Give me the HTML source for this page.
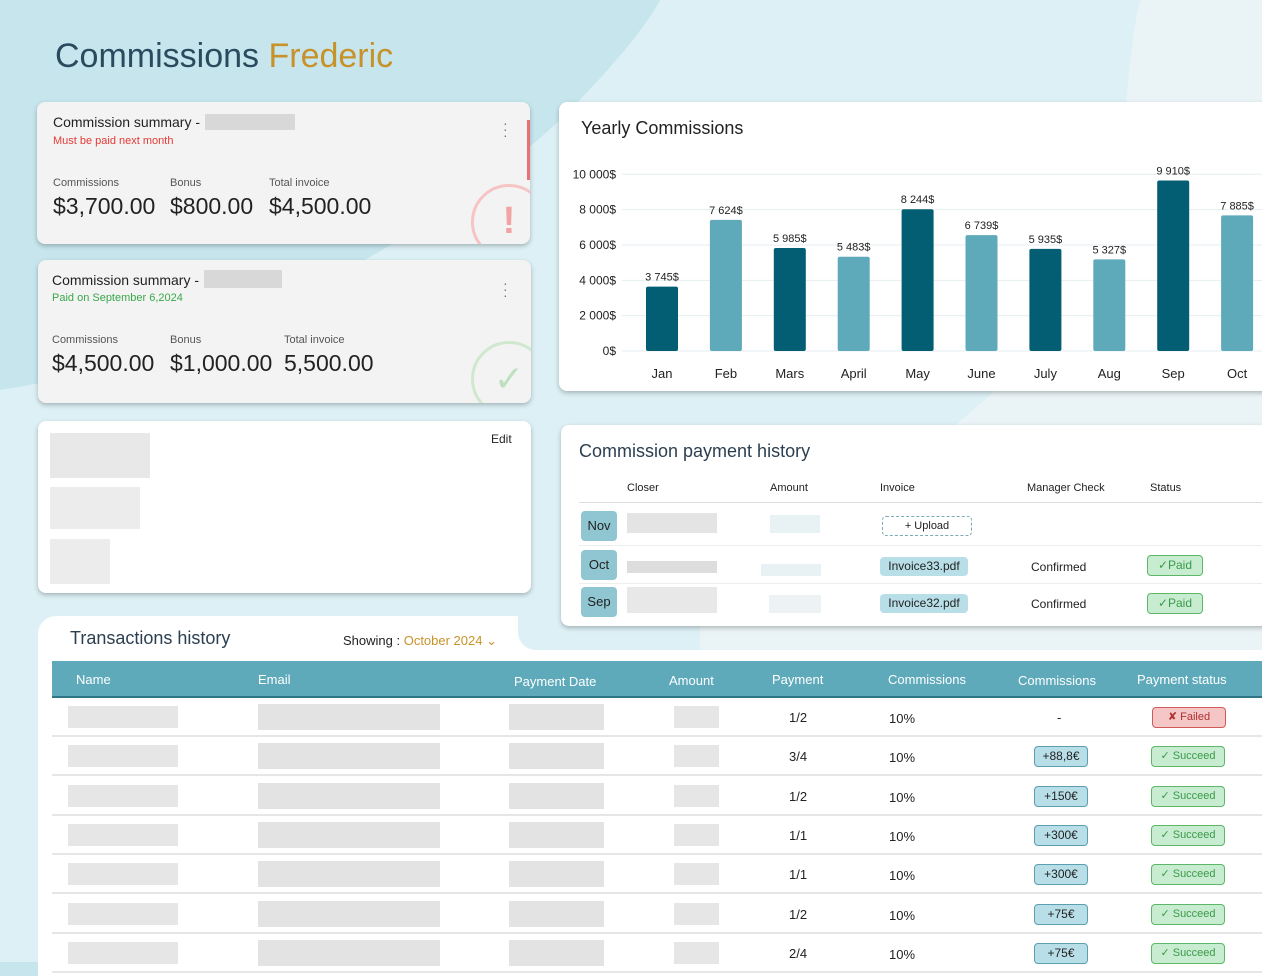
<!DOCTYPE html>
<html><head><meta charset="utf-8">
<style>
*{box-sizing:border-box;margin:0;padding:0}
body{width:1262px;height:962px;overflow:hidden;position:relative;font-family:"Liberation Sans",sans-serif;background:#c6e5ed;color:#222}
.abs{position:absolute}
.card{position:absolute;border-radius:8px;box-shadow:0 2px 5px rgba(0,0,0,.25)}
.blk{position:absolute;background:#d8d8d8}
.lbl{font-size:11px;color:#555}
.big{font-size:23px;color:#222}
.pill{position:absolute;border-radius:4px;font-size:12px;text-align:center}
</style></head><body>
<svg class="abs" style="left:0;top:0" width="1262" height="962">
<path d="M660 0 L1262 0 L1262 962 L0 962 L0 390 C200 360 420 250 560 120 C620 60 650 20 660 0Z" fill="#dcf0f5"/>
<path d="M1140 0 L1262 0 L1262 962 L620 962 L680 620 C820 520 980 430 1080 300 C1130 230 1120 80 1140 0Z" fill="#eaf3f6"/>
</svg>
<div class="abs" style="left:55px;top:37px;font-size:34px;color:#2b4a5e">Commissions <span style="color:#c8922a">Frederic</span></div>

<!-- card 1 -->
<div class="card" style="left:37px;top:102px;width:493px;height:142px;background:#f3f3f3;overflow:hidden">
 <div class="abs" style="left:16px;top:12px;font-size:14px">Commission summary -</div>
 <div class="blk" style="left:168px;top:12px;width:90px;height:16px;background:#ccc;opacity:.7"></div>
 <div class="abs" style="left:16px;top:33px;font-size:11px;color:#e53935">Must be paid next month</div>
 <div class="abs" style="left:466px;top:18px;font-size:14px;color:#777;line-height:6px">·<br>·<br>·</div>
 <div class="abs lbl" style="left:16px;top:75px">Commissions</div><div class="abs lbl" style="left:133px;top:75px">Bonus</div><div class="abs lbl" style="left:232px;top:75px">Total invoice</div>
 <div class="abs big" style="left:16px;top:91px">$3,700.00</div><div class="abs big" style="left:133px;top:91px">$800.00</div><div class="abs big" style="left:232px;top:91px">$4,500.00</div>
 <div class="abs" style="left:434px;top:82px;width:76px;height:76px;border:3px solid #f6c4c4;border-radius:50%;color:#f2a3a3;font-size:38px;text-align:center;line-height:68px;font-weight:bold">!</div>
 <div class="abs" style="right:0;top:18px;width:3px;height:60px;background:#e57373"></div>
</div>
<!-- card 2 -->
<div class="card" style="left:38px;top:260px;width:493px;height:143px;background:#f3f3f3;overflow:hidden">
 <div class="abs" style="left:14px;top:12px;font-size:14px">Commission summary -</div>
 <div class="blk" style="left:166px;top:10px;width:78px;height:18px;background:#ccc;opacity:.7"></div>
 <div class="abs" style="left:14px;top:32px;font-size:11px;color:#3aa84a">Paid on September 6,2024</div>
 <div class="abs" style="left:465px;top:20px;font-size:14px;color:#777;line-height:6px">·<br>·<br>·</div>
 <div class="abs lbl" style="left:14px;top:74px">Commissions</div><div class="abs lbl" style="left:132px;top:74px">Bonus</div><div class="abs lbl" style="left:246px;top:74px">Total invoice</div>
 <div class="abs big" style="left:14px;top:90px">$4,500.00</div><div class="abs big" style="left:132px;top:90px">$1,000.00</div><div class="abs big" style="left:246px;top:90px">5,500.00</div>
 <div class="abs" style="left:433px;top:81px;width:76px;height:76px;border:3px solid #cfe8cf;border-radius:50%;color:#bfe0bf;font-size:36px;text-align:center;line-height:70px">✓</div>
</div>
<!-- card 3 -->
<div class="card" style="left:38px;top:421px;width:493px;height:172px;background:#fff">
 <div class="abs" style="left:453px;top:11px;font-size:12px">Edit</div>
 <div class="blk" style="left:12px;top:12px;width:100px;height:45px;background:#e8e8e8"></div>
 <div class="blk" style="left:12px;top:66px;width:90px;height:42px;background:#ececec"></div>
 <div class="blk" style="left:12px;top:118px;width:60px;height:45px;background:#ececec"></div>
</div>

<!-- chart -->
<div class="card" style="left:559px;top:102px;width:720px;height:289px;background:#fff;overflow:hidden">
 <div class="abs" style="left:22px;top:16px;font-size:18px;color:#222">Yearly Commissions</div>
 <svg id="chart" class="abs" style="left:0;top:0" width="720" height="289"></svg>
</div>

<!-- transactions -->
<div class="abs" style="left:38px;top:616px;width:1230px;height:360px;background:#fff;border-radius:18px 18px 0 0"></div>
<div class="abs" style="left:518px;top:616px;width:750px;height:34px;background:#dcf0f5;border-radius:0 0 0 18px"></div>
<div class="abs" style="left:700px;top:616px;width:568px;height:34px;background:#eaf3f6"></div>
<div class="abs" style="left:70px;top:628px;font-size:18px;color:#2b3f50">Transactions history</div>
<div class="abs" style="left:343px;top:633px;font-size:13px">Showing : <span style="color:#c8922a">October 2024 ⌄</span></div>
<div class="abs" style="left:52px;top:661px;width:1220px;height:37px;background:#5eaabb;border-bottom:2px solid #2f7585;color:#fff;font-size:13px">
 <span class="abs" style="left:24px;top:11px">Name</span><span class="abs" style="left:206px;top:11px">Email</span><span class="abs" style="left:462px;top:13px">Payment Date</span><span class="abs" style="left:617px;top:12px">Amount</span><span class="abs" style="left:720px;top:11px">Payment</span><span class="abs" style="left:836px;top:11px">Commissions</span><span class="abs" style="left:966px;top:12px">Commissions</span><span class="abs" style="left:1085px;top:11px">Payment status</span>
</div>
<div id="rows"></div>

<!-- payment history -->
<div class="card" style="left:561px;top:425px;width:720px;height:201px;background:#fff;z-index:5">
 <div class="abs" style="left:18px;top:16px;font-size:18px;color:#2b3f50">Commission payment history</div>
 <div class="abs" style="left:66px;top:57px;font-size:11px">Closer</div>
 <div class="abs" style="left:209px;top:57px;font-size:11px">Amount</div>
 <div class="abs" style="left:319px;top:57px;font-size:11px">Invoice</div>
 <div class="abs" style="left:466px;top:57px;font-size:11px">Manager Check</div>
 <div class="abs" style="left:589px;top:57px;font-size:11px">Status</div>
 <div class="abs" style="left:18px;top:77px;width:690px;height:1px;background:#ddd"></div>
 <div class="abs" style="left:18px;top:120px;width:690px;height:1px;background:#eee"></div>
 <div class="abs" style="left:18px;top:158px;width:690px;height:1px;background:#eee"></div>
 <div class="pill" style="left:20px;top:86px;width:36px;height:30px;background:#8fc6d2;line-height:30px;font-size:13px">Nov</div>
 <div class="pill" style="left:20px;top:125px;width:36px;height:30px;background:#8fc6d2;line-height:30px;font-size:13px">Oct</div>
 <div class="pill" style="left:20px;top:162px;width:36px;height:30px;background:#8fc6d2;line-height:30px;font-size:13px">Sep</div>
 <div class="blk" style="left:66px;top:88px;width:90px;height:20px;background:#e4e4e4"></div>
 <div class="blk" style="left:66px;top:136px;width:90px;height:12px;background:#ddd"></div>
 <div class="blk" style="left:66px;top:162px;width:90px;height:26px;background:#e8e8e8"></div>
 <div class="blk" style="left:209px;top:90px;width:50px;height:18px;background:#e8f1f3"></div>
 <div class="blk" style="left:200px;top:139px;width:60px;height:12px;background:#e8f1f3"></div>
 <div class="blk" style="left:208px;top:170px;width:52px;height:18px;background:#edf3f4"></div>
 <div class="pill" style="left:321px;top:91px;width:90px;height:20px;border:1px dashed #7aaab5;line-height:18px;font-size:11px">+ Upload</div>
 <div class="pill" style="left:319px;top:132px;width:88px;height:19px;background:#b8dfe8;line-height:19px">Invoice33.pdf</div>
 <div class="pill" style="left:319px;top:169px;width:88px;height:19px;background:#b8dfe8;line-height:19px">Invoice32.pdf</div>
 <div class="abs" style="left:470px;top:135px;font-size:12px">Confirmed</div>
 <div class="abs" style="left:470px;top:172px;font-size:12px">Confirmed</div>
 <div class="pill" style="left:586px;top:130px;width:56px;height:21px;background:#c8ecd0;border:1px solid #5cb76b;color:#3a9a4a;line-height:19px">✓Paid</div>
 <div class="pill" style="left:586px;top:168px;width:56px;height:21px;background:#c8ecd0;border:1px solid #5cb76b;color:#3a9a4a;line-height:19px">✓Paid</div>
</div>

<script>
// chart data
const months=["Jan","Feb","Mars","April","May","June","July","Aug","Sep","Oct"];
const values=[3745,7624,5985,5483,8244,6739,5935,5327,9910,7885];
const valueLabels=["3 745$","7 624$","5 985$","5 483$","8 244$","6 739$","5 935$","5 327$","9 910$","7 885$"];
const yTicks=[0,2000,4000,6000,8000,10000];
const yTickLabels=["0$","2 000$","4 000$","6 000$","8 000$","10 000$"];
const NS="http://www.w3.org/2000/svg";
const svg=document.getElementById('chart');
const y=v=>249-v*0.01767;
const yb=v=>249-v*0.0172;
const x=i=>103+i*63.9;
function mk(t,a){const e=document.createElementNS(NS,t);for(const k in a)e.setAttribute(k,a[k]);svg.appendChild(e);return e;}
yTicks.forEach((t,i)=>{
 const l=mk('line',{x1:63,x2:720,y1:y(t),y2:y(t),stroke:'#e6eef0'});
 
 
 const tx=mk('text',{x:57,y:y(t)+4,'text-anchor':'end','font-size':12,fill:'#222','font-family':'Liberation Sans'});
 tx.textContent=yTickLabels[i];
 
 
});
values.forEach((v,i)=>{
 const r=mk('rect',{x:x(i)-16,y:yb(v),width:32,height:249-yb(v),rx:2,fill:i%2?'#5eaabb':'#035e73'});
 
 
 const t=mk('text',{x:x(i),y:yb(v)-6,'text-anchor':'middle','font-size':11,fill:'#222','font-family':'Liberation Sans'});
 t.textContent=valueLabels[i];
 
 
 const m=mk('text',{x:x(i),y:276,'text-anchor':'middle','font-size':13,fill:'#222','font-family':'Liberation Sans'});
 m.textContent=months[i];
 
 
});
// table
const payments=["1/2","3/4","1/2","1/1","1/1","1/2","2/4"];
const comms=["-","+88,8€","+150€","+300€","+300€","+75€","+75€"];
const statuses=["Failed","Succeed","Succeed","Succeed","Succeed","Succeed","Succeed"];
const rows=document.getElementById('rows');
payments.forEach((p,i)=>{
 const top=698+i*39.3;
 const r=document.createElement('div');
 r.className='abs';
 
 
 r.style.cssText=`left:52px;top:${top}px;width:1220px;height:39px;border-bottom:2px solid #e6e6e6`;
 let h=`<div class="blk" style="left:16px;top:8px;width:110px;height:22px;background:#e6e6e6"></div>
 <div class="blk" style="left:206px;top:6px;width:182px;height:26px;background:#e3e3e3"></div>
 <div class="blk" style="left:457px;top:6px;width:95px;height:26px;background:#e3e3e3"></div>
 <div class="blk" style="left:622px;top:8px;width:45px;height:22px;background:#e6e6e6"></div>
 <span class="abs" style="left:737px;top:12px;font-size:13px">${p}</span>
 <span class="abs" style="left:837px;top:13px;font-size:13px">10%</span>`;
 if(comms[i]==="-") h+=`<span class="abs" style="left:1005px;top:12px;font-size:13px">-</span>`;
 else h+=`<div class="pill" style="left:982px;top:9px;width:54px;height:21px;background:#b8dfe8;border:1px solid #5b9fb0;line-height:19px">${comms[i]}</div>`;
 if(statuses[i]==="Failed") h+=`<div class="pill" style="left:1100px;top:9px;width:74px;height:21px;background:#f4c6c6;border:1px solid #d05a5a;color:#b03030;line-height:19px;font-size:11px">✘ Failed</div>`;
 else h+=`<div class="pill" style="left:1099px;top:9px;width:74px;height:21px;background:#c8ecd0;border:1px solid #5cb76b;color:#3a9a4a;line-height:19px;font-size:11px">✓ Succeed</div>`;
 r.innerHTML=h;
 rows.appendChild(r);
});
</script>
</body></html>
